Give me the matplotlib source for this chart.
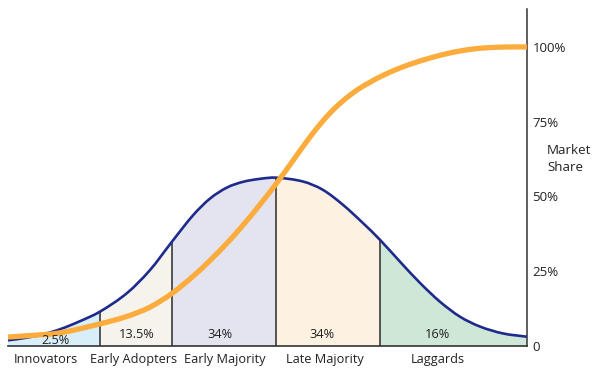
import numpy as np
import matplotlib
matplotlib.use("Agg")
import matplotlib.pyplot as plt
from matplotlib.path import Path
from matplotlib.patches import PathPatch

plt.rcParams['font.family'] = ['Open Sans', 'DejaVu Sans']

# ---- data (x = adoption time, arbitrary units; y = percent) ----
bell_x = [0, 17, 35, 52, 72, 92, 119, 142, 164, 185, 202, 219, 235, 252, 268,
          295, 315, 335, 355, 372, 392, 412, 432, 452, 472, 495, 519]
bell_y = [1.9, 2.7, 3.9, 5.6, 8.3, 11.5, 17.7, 25.4, 34.9, 43.7, 49.3, 53.0, 54.9, 55.9, 56.3,
          55.0, 52.2, 47.2, 41.1, 35.5, 28.2, 21.1, 14.8, 9.8, 6.5, 4.2, 3.1]

share_x = [0, 22, 52, 92, 119, 142, 164, 185, 202, 219, 235, 252, 268, 282, 295,
           309, 322, 335, 349, 362, 375, 390, 402, 422, 442, 462, 482, 502, 519]
share_y = [3.0, 3.5, 4.4, 7.4, 9.9, 13.0, 17.6, 23.3, 28.6, 34.4, 40.4, 47.3, 54.2, 60.6, 66.7,
           72.9, 77.9, 82.0, 85.6, 88.2, 90.5, 92.7, 94.2, 96.3, 98.0, 99.2, 99.8, 100.0, 100.0]

categories = ['Innovators', 'Early Adopters', 'Early Majority', 'Late Majority', 'Laggards']
shares = ['2.5%', '13.5%', '34%', '34%', '16%']
bounds = [0, 92, 164, 268, 372, 519]
fills = ['#d8eef8', '#f5f3ec', '#e4e4f1', '#fdf1e1', '#cfe7d7']

yticks = [0, 25, 50, 75, 100]
yticklabels = ['0', '25%', '50%', '75%', '100%']

# label placement (layout only)
cat_label_x = [38, 126, 217, 317, 430]
share_label_x = [47, 129, 212, 314, 429]
share_label_y = [1.9, 3.7, 3.7, 3.7, 3.7]


def hermite_segments(x, y):
    """Cubic Bezier control points for a smooth curve through the given points."""
    x = np.asarray(x, float)
    y = np.asarray(y, float)
    n = len(x)
    m = np.empty(n)
    m[0] = (y[1] - y[0]) / (x[1] - x[0])
    m[-1] = (y[-1] - y[-2]) / (x[-1] - x[-2])
    for i in range(1, n - 1):
        m[i] = (y[i + 1] - y[i - 1]) / (x[i + 1] - x[i - 1])
    segs = []
    for i in range(n - 1):
        h = x[i + 1] - x[i]
        c1 = (x[i] + h / 3, y[i] + m[i] * h / 3)
        c2 = (x[i + 1] - h / 3, y[i + 1] - m[i + 1] * h / 3)
        segs.append(((x[i], y[i]), c1, c2, (x[i + 1], y[i + 1])))
    return segs


def curve_path(segs, i0=0, i1=None, close_to_base=False):
    if i1 is None:
        i1 = len(segs)
    verts = [segs[i0][0]]
    codes = [Path.MOVETO]
    for s in segs[i0:i1]:
        verts += [s[1], s[2], s[3]]
        codes += [Path.CURVE4] * 3
    if close_to_base:
        verts += [(segs[i1 - 1][3][0], 0), (segs[i0][0][0], 0), segs[i0][0]]
        codes += [Path.LINETO, Path.LINETO, Path.CLOSEPOLY]
    return Path(verts, codes)


# ---- figure ----
fig = plt.figure(figsize=(6, 3.75), dpi=100)
ax = fig.add_axes([8 / 600, 29 / 375, 519 / 600, 337 / 375])
ax.set_xlim(0, 519)
ax.set_ylim(0, 112.7)

bell_segs = hermite_segments(bell_x, bell_y)
share_segs = hermite_segments(share_x, share_y)

for i in range(len(categories)):
    i0 = bell_x.index(bounds[i])
    i1 = bell_x.index(bounds[i + 1])
    ax.add_patch(PathPatch(curve_path(bell_segs, i0, i1, close_to_base=True),
                           facecolor=fills[i], edgecolor='none', zorder=1))

inner = bounds[1:-1]
ax.vlines(inner, 0, [bell_y[bell_x.index(b)] for b in inner],
          color='#2b2b2b', lw=1.1, zorder=2)

ax.add_patch(PathPatch(curve_path(bell_segs), facecolor='none',
                       edgecolor='#1f2b8c', lw=1.9, zorder=3, clip_on=False))
ax.add_patch(PathPatch(curve_path(share_segs), facecolor='none',
                       edgecolor='#fbac3c', lw=3.8, zorder=4, clip_on=False,
                       capstyle='butt'))

for s in ['left', 'top']:
    ax.spines[s].set_visible(False)
ax.spines['bottom'].set_color('#333333')
ax.spines['bottom'].set_linewidth(1.2)
ax.spines['right'].set_color('#333333')
ax.spines['right'].set_linewidth(1.1)
ax.spines['bottom'].set_zorder(5)

ax.set_xticks([])
ax.yaxis.tick_right()
ax.set_yticks(yticks)
ax.set_yticklabels(yticklabels)
ax.tick_params(axis='y', length=0, pad=4, labelsize=9.5, labelcolor='#222222')

for xl, name in zip(cat_label_x, categories):
    ax.text(xl, -4.6, name, ha='center', va='center', fontsize=9.2,
            color='#222222', clip_on=False)
for xl, yl, sh in zip(share_label_x, share_label_y, shares):
    ax.text(xl, yl, sh, ha='center', va='center', fontsize=9.2,
            color='#222222', zorder=6)

ax.text(1.039, 0.555, 'Market\nShare', transform=ax.transAxes, ha='left',
        va='center', fontsize=9.6, color='#222222', linespacing=1.35)

fig.savefig('out.png', dpi=100)
